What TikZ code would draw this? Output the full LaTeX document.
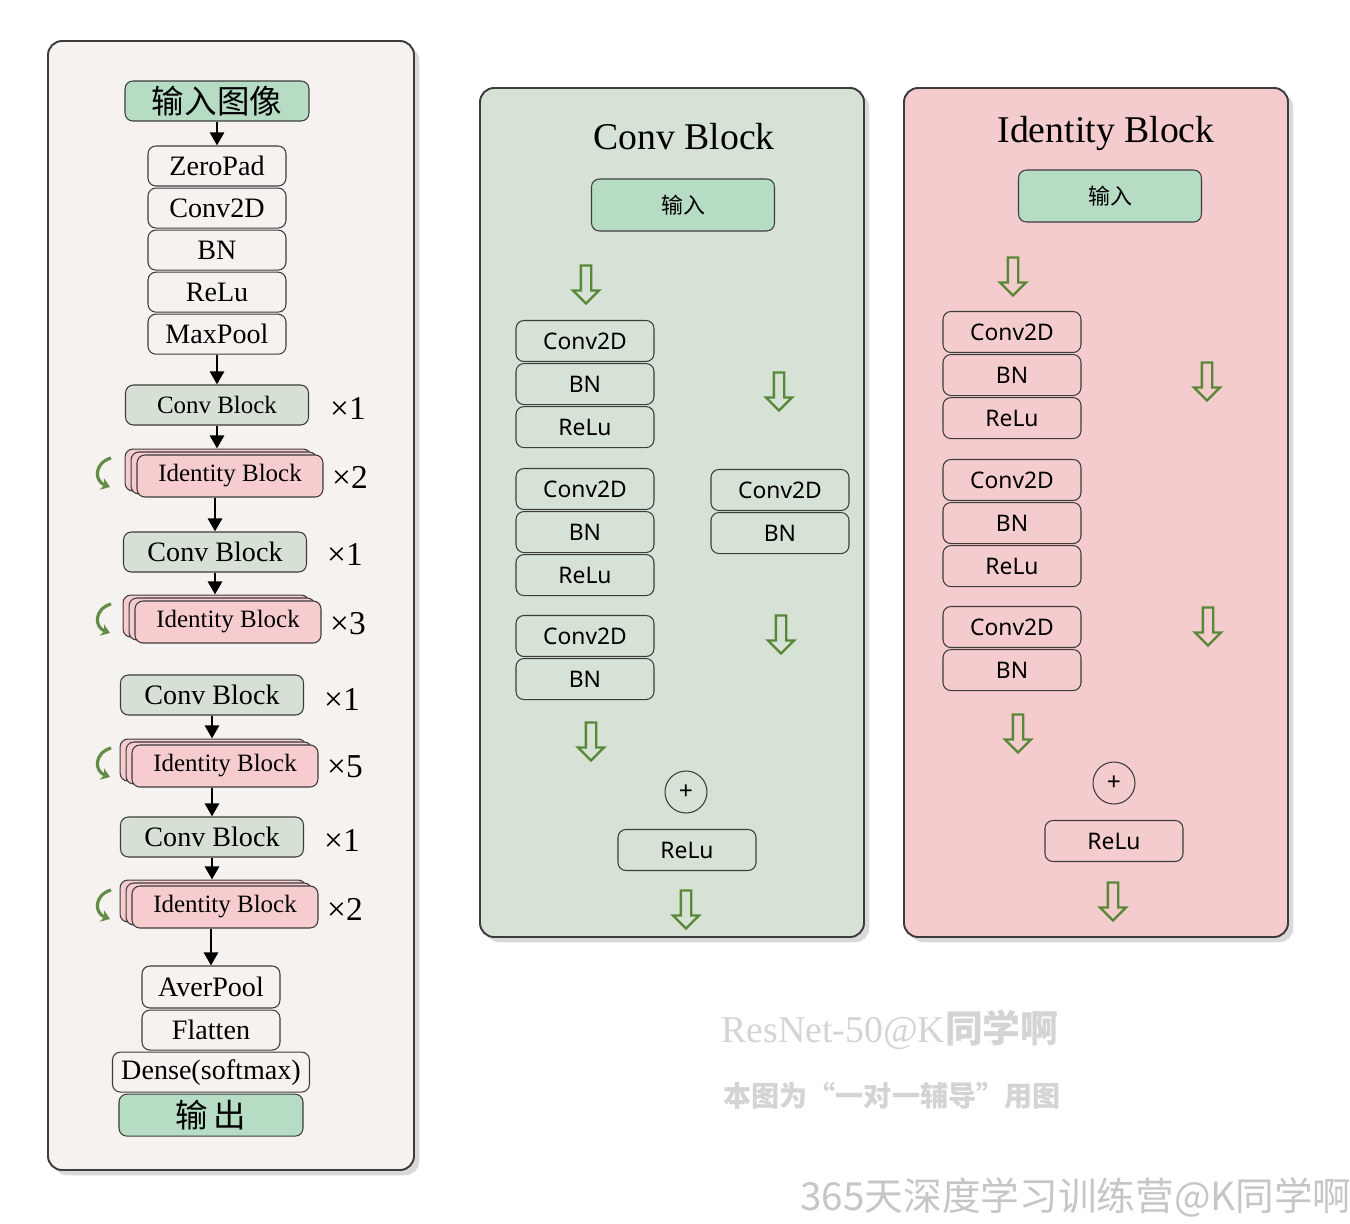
\documentclass[tikz,border=0pt]{standalone}
\usepackage{fontspec}
\setmainfont{Liberation Serif}
\newfontfamily\cnfont{Noto Sans CJK SC}
\newfontfamily\labfont{Noto Sans}
\usetikzlibrary{shapes.arrows,arrows.meta,shadows,positioning}
\definecolor{panelL}{RGB}{246,242,239}
\definecolor{panelC}{RGB}{215,226,214}
\definecolor{panelR}{RGB}{245,204,205}
\definecolor{inGreen}{RGB}{183,220,196}
\definecolor{convFill}{RGB}{214,224,212}
\definecolor{idFill}{RGB}{246,204,206}
\definecolor{edge}{RGB}{60,60,60}
\definecolor{arrowGreen}{RGB}{88,135,56}
\definecolor{curlGreen}{RGB}{100,140,70}
\definecolor{wmGray}{RGB}{212,212,212}
\tikzset{
    panel/.style={draw=edge, line width=1.1pt, rounded corners=8pt,
        drop shadow={shadow xshift=3pt, shadow yshift=-3pt, fill=black, opacity=0.15}},
    layer/.style={rectangle, rounded corners=4.5pt, draw=edge, line width=0.6pt,
        minimum width=2.76cm, minimum height=0.8cm, inner sep=0pt, font=\fontsize{16}{16}\selectfont},
    inbox/.style={layer, fill=inGreen, minimum width=3.68cm, font=\cnfont\fontsize{18.5}{18.5}\selectfont},
    convB/.style={layer, fill=convFill, minimum width=3.66cm},
    idB/.style={layer, fill=idFill, minimum width=3.72cm, minimum height=0.84cm,
        double copy shadow={shadow xshift=-3.4pt, shadow yshift=1.7pt}, font=\fontsize{14.2}{14.2}\selectfont},
    times/.style={font=\fontsize{19}{19}\selectfont},
    flow/.style={-{Triangle[width=8pt,length=7.5pt]}, line width=1.7pt},
    curl/.style={-{Stealth[width=7pt,length=5pt]}, draw=curlGreen, line width=1.8pt},
    blk/.style={rectangle, rounded corners=4.5pt, draw=edge, line width=0.6pt,
        minimum width=2.76cm, minimum height=0.82cm, inner sep=0pt, font=\labfont\fontsize{13}{13}\selectfont},
    blkin/.style={blk, fill=inGreen, minimum width=3.66cm, minimum height=1.04cm, font=\cnfont\fontsize{12.5}{12.5}\selectfont},
    addop/.style={circle, draw=edge, line width=0.6pt, minimum size=0.84cm, inner sep=0pt, font=\labfont\fontsize{14}{14}\selectfont},
    hollow/.style={single arrow, draw=arrowGreen, line width=1.3pt, shape border rotate=270,
        minimum height=0.76cm, single arrow head extend=0.16cm, inner sep=0.08cm},
    title/.style={font=\fontsize{21.5}{21.5}\selectfont},
}

\begin{document}
\begin{tikzpicture}[x=0.02cm, y=-0.02cm]
    \useasboundingbox[fill=white] (0,0) rectangle (1350,1224);

    % Panels
    \path[panel, fill=panelL] (48,41) rectangle (414,1170);
    \path[panel, fill=panelC] (480,88) rectangle (864,937);
    \path[panel, fill=panelR] (904,88) rectangle (1288,937);

    % Main network
    \node[inbox] (inImg) at (217,101) {输入图像};
    \node[layer] (zeroPad) at (217,166) {ZeroPad};
    \node[layer, below=0.02cm of zeroPad] (conv) {Conv2D};
    \node[layer, below=0.02cm of conv] (bn) {BN};
    \node[layer, below=0.02cm of bn] (relu) {ReLu};
    \node[layer, below=0.02cm of relu] (maxPool) {MaxPool};

    \node[convB, font=\fontsize{14.2}{14.2}\selectfont] (cb1) at (217,405) {Conv Block};
    \node[idB] (ib1) at (230,476) {Identity Block};
    \node[convB] (cb2) at (215,552) {Conv Block};
    \node[idB] (ib2) at (228,622) {Identity Block};
    \node[convB] (cb3) at (212,695) {Conv Block};
    \node[idB] (ib3) at (225,766) {Identity Block};
    \node[convB] (cb4) at (212,837) {Conv Block};
    \node[idB] (ib4) at (225,907) {Identity Block};

    \node[layer, minimum height=0.84cm] (averPool) at (211,987) {AverPool};
    \node[layer, below=0.02cm of averPool] (flatten) {Flatten};
    \node[layer, minimum width=3.94cm, below=0.02cm of flatten] (dense) {Dense(softmax)};
    \node[inbox, minimum height=0.84cm, below=0.02cm of dense] (outLayer) {输\,出};

    % Repeat counts
    \foreach \x/\y/\n in {348/408/1, 350/477/2, 345/554/1, 348/624/3, 342/699/1, 345/767/5, 342/840/1, 345/909/2}
        \node[times] at (\x,\y) {×\n};

    % Loops
    \foreach \y in {472, 618, 762, 904}
        \draw[curl] (111,\y-14) .. controls (94,\y-9) and (94,\y+9) .. (110,\y+15);

    % Flow arrows
    \draw[flow] (inImg.south) -- (zeroPad.north);
    \draw[flow] (maxPool.south) -- (cb1.north);
    \draw[flow] (cb1.south) -- ([yshift=3.4pt]ib1.north -| cb1.south);
    \draw[flow] (ib1.south -| cb2.north) -- (cb2.north);
    \draw[flow] (cb2.south) -- ([yshift=3.4pt]ib2.north -| cb2.south);
    \draw[flow] (cb3.south) -- ([yshift=3.4pt]ib3.north -| cb3.south);
    \draw[flow] (ib3.south -| cb4.north) -- (cb4.north);
    \draw[flow] (cb4.south) -- ([yshift=3.4pt]ib4.north -| cb4.south);
    \draw[flow] (ib4.south -| averPool.north) -- (averPool.north);

    % Conv Block
    \node[title] (cTitle) at (684,137) {Conv Block};
    \node[blkin] (cIn) at (683,205) {输入};
    \node[hollow] (ha1) at (586,282) {};
    \node[blk] (cConvA) at (585,341) {Conv2D};
    \node[blk, below=0.02cm of cConvA] (cBnA) {BN};
    \node[blk, below=0.02cm of cBnA] (cReluA) {ReLu};
    \node[blk] (cConvB) at (585,489) {Conv2D};
    \node[blk, below=0.02cm of cConvB] (cBnB) {BN};
    \node[blk, below=0.02cm of cBnB] (cReluB) {ReLu};
    \node[blk] (cConvC) at (585,636) {Conv2D};
    \node[blk, below=0.02cm of cConvC] (cBnC) {BN};
    \node[hollow] (ha2) at (591,739) {};
    \node[hollow] (ha3) at (779,389) {};
    \node[blk] (sConv) at (780,490) {Conv2D};
    \node[blk, below=0.02cm of sConv] (sBn) {BN};
    \node[hollow] (ha4) at (781,632) {};
    \node[addop] (cAdd) at (686,792) {+};
    \node[blk] (cRelu) at (687,850) {ReLu};
    \node[hollow] (ha5) at (686,907) {};

    % Identity Block
    \node[title] (iTitle) at (1106,133) {Identity Block};
    \node[blkin] (iIn) at (1110,196) {输入};
    \node[hollow] (hb1) at (1013,274) {};
    \node[blk] (iConvA) at (1012,332) {Conv2D};
    \node[blk, below=0.02cm of iConvA] (iBnA) {BN};
    \node[blk, below=0.02cm of iBnA] (iReluA) {ReLu};
    \node[blk] (iConvB) at (1012,480) {Conv2D};
    \node[blk, below=0.02cm of iConvB] (iBnB) {BN};
    \node[blk, below=0.02cm of iBnB] (iReluB) {ReLu};
    \node[blk] (iConvC) at (1012,627) {Conv2D};
    \node[blk, below=0.02cm of iConvC] (iBnC) {BN};
    \node[hollow] (hb2) at (1207,379) {};
    \node[hollow] (hb3) at (1208,624) {};
    \node[hollow] (hb4) at (1018,731) {};
    \node[addop] (iAdd) at (1114,783) {+};
    \node[blk] (iRelu) at (1114,841) {ReLu};
    \node[hollow] (hb5) at (1113,899) {};

    % Watermarks
    \node[text=wmGray, font=\fontsize{21.5}{21.5}\selectfont] (wm1) at (890,1030) {ResNet-50@K{\cnfont\bfseries 同学啊}};
    \node[text=wmGray, font=\cnfont\bfseries\fontsize{16}{16}\selectfont] (wm2) at (892,1096) {本图为“一对一辅导”用图};
    \node[text=gray!45, font=\cnfont\fontsize{22}{22}\selectfont] (wm3) at (1076,1197) {365天深度学习训练营@K同学啊};
\end{tikzpicture}
\end{document}
